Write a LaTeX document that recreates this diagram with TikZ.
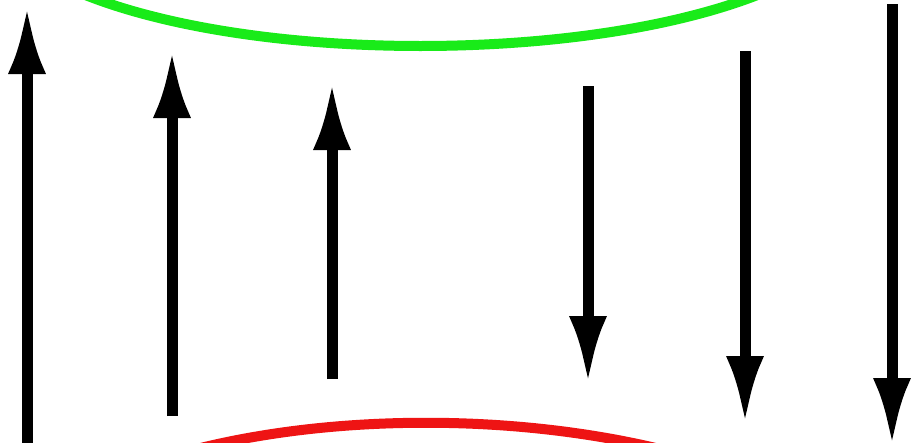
\documentclass[tikz,border=0pt]{standalone}
\usetikzlibrary{arrows.meta}
\definecolor{arcgreen}{RGB}{25,235,25}
\definecolor{arcred}{RGB}{238,20,20}
\tikzset{
  spin/.style={line width=11pt, black, -{Latex[length=68pt,width=38pt]}},
  arcline/.style={line width=10pt, line cap=round}
}
\begin{document}
\begin{tikzpicture}[x=1pt,y=-1pt]
\useasboundingbox (0,0) rectangle (915,442);
\clip (0,0) rectangle (915,442);
\fill[white] (0,0) rectangle (915,442);
% arcs
\coordinate (g1) at (78,-8);
\coordinate (g2) at (765,-8);
\draw[arcgreen,arcline] (g1) .. controls (250,64) and (590,64) .. (g2);
\coordinate (r1) at (185,452);
\coordinate (r2) at (672,452);
\draw[arcred,arcline] (r1) .. controls (330,413) and (520,413) .. (r2);
% up arrows
\coordinate (a1s) at (27,446); \coordinate (a1e) at (27,6);
\coordinate (a2s) at (172,416); \coordinate (a2e) at (172,50);
\coordinate (a3s) at (332,379); \coordinate (a3e) at (332,82);
% down arrows
\coordinate (a4s) at (588,86); \coordinate (a4e) at (588,384);
\coordinate (a5s) at (745,51); \coordinate (a5e) at (745,424);
\coordinate (a6s) at (892,4); \coordinate (a6e) at (892,446);
\draw[spin] (a1s) -- (a1e);
\draw[spin] (a2s) -- (a2e);
\draw[spin] (a3s) -- (a3e);
\draw[spin] (a4s) -- (a4e);
\draw[spin] (a5s) -- (a5e);
\draw[spin] (a6s) -- (a6e);
\end{tikzpicture}
\end{document}
